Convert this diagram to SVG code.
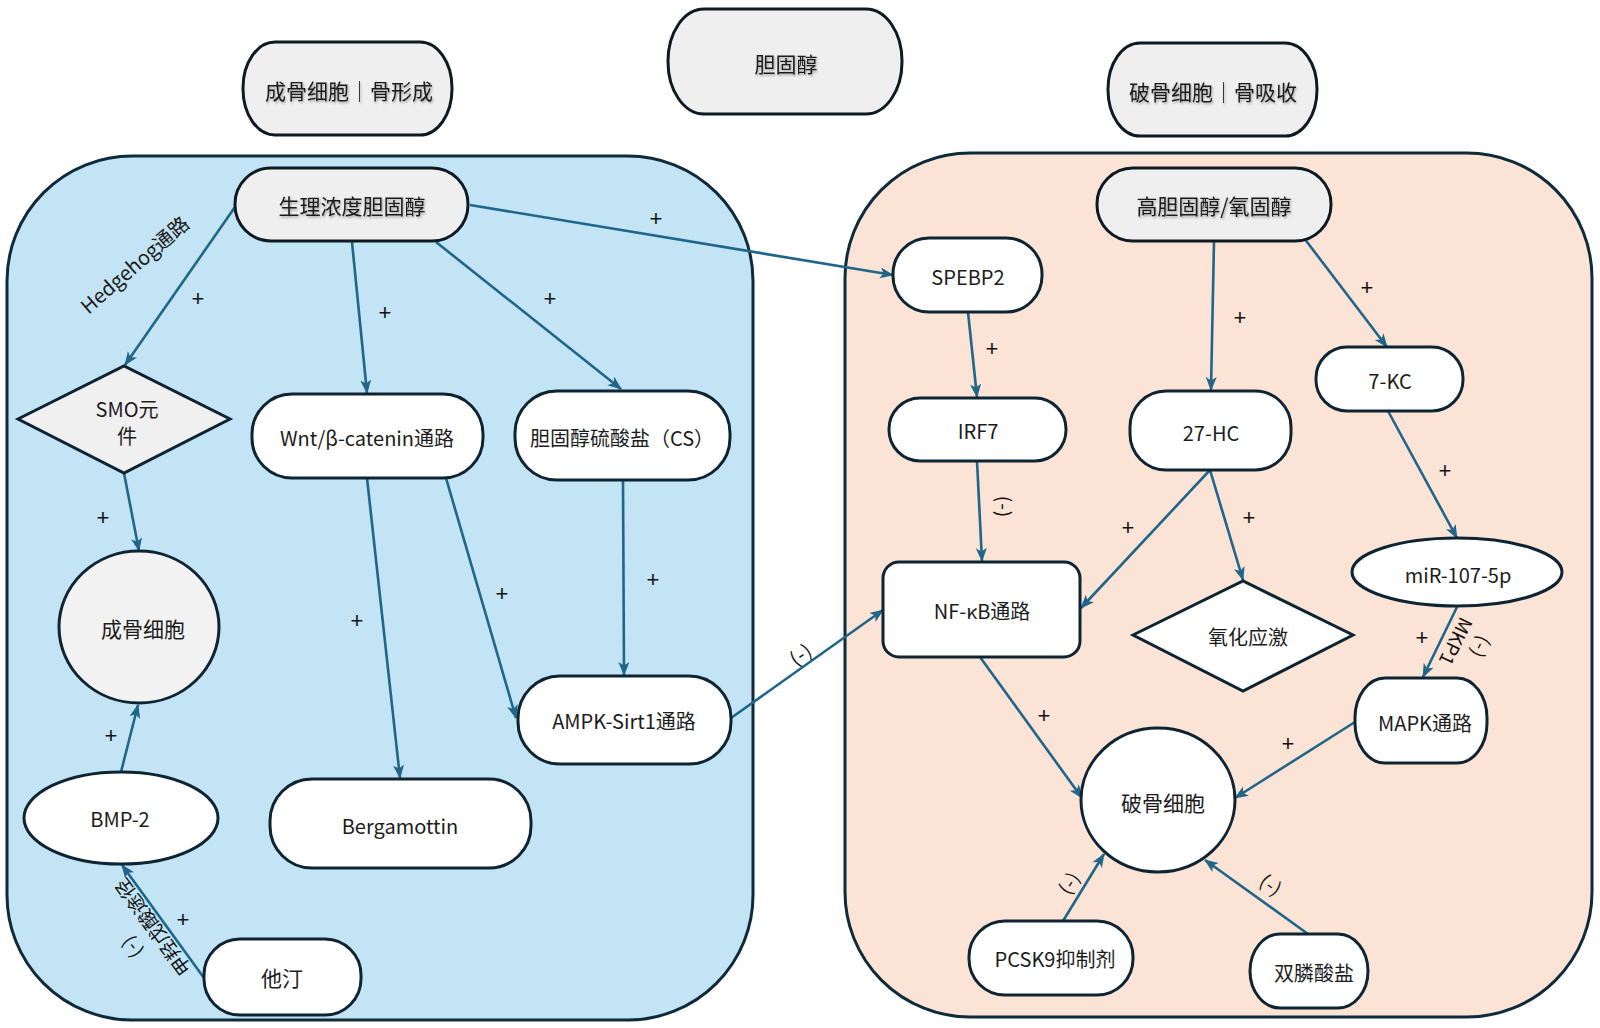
<svg xmlns="http://www.w3.org/2000/svg" width="1600" height="1028" viewBox="0 0 1600 1028">
<defs>
<style>
.bg{fill:#ffffff}
.zone{stroke:#0f2a3a;stroke-width:3}
.n{fill:#ffffff;stroke:#0e2433;stroke-width:3}
.g{fill:#efefef;stroke:#0e1a22;stroke-width:3}
.t{font-family:"Noto Sans CJK SC","Noto Sans",sans-serif;font-size:20px;fill:#1c1c1c;text-anchor:middle;dominant-baseline:central}
.tl{font-size:21px}
.sh{filter:url(#ts)}
.c{fill:none;stroke:#1f6689;stroke-width:2.6;marker-end:url(#ah)}
.p{font-family:"Liberation Sans","Noto Sans",sans-serif;font-size:22px;fill:#111;text-anchor:middle;dominant-baseline:central}
.m{font-family:"Noto Sans CJK SC","Noto Sans",sans-serif;font-size:19px;fill:#111;text-anchor:middle;dominant-baseline:central;letter-spacing:1px}
</style>
<marker id="ah" markerWidth="14" markerHeight="12" refX="13" refY="5.5" orient="auto" markerUnits="userSpaceOnUse">
<path d="M0,0 L14,5.5 L0,11 L3.5,5.5 z" fill="#1f6689"/>
</marker>
<filter id="ts" x="-10%" y="-30%" width="120%" height="160%">
<feDropShadow dx="1" dy="1.5" stdDeviation="1" flood-color="#000" flood-opacity="0.35"/>
</filter>
</defs>
<rect class="bg" x="0" y="0" width="1600" height="1028"/>

<g id="zones">
<rect id="zone-left" class="zone" x="7" y="156" width="746" height="864" rx="125" ry="125" fill="#c2e4f5"/>
<rect id="zone-right" class="zone" x="845" y="153" width="747" height="864" rx="125" ry="125" fill="#fbe3d6"/>
</g>

<g id="connectors">
<path class="c" d="M235,207 L125,365"/>
<path class="c" d="M352,242 L367,393"/>
<path class="c" d="M436,242 L621,389"/>
<path class="c" d="M470,205 L893,275"/>
<path class="c" d="M124,473 L139,551"/>
<path class="c" d="M121,772 L138,705"/>
<path class="c" d="M367,478 L400,778"/>
<path class="c" d="M446,478 L516,718"/>
<path class="c" d="M623,480 L624,675"/>
<path class="c" d="M204,978 L122,865"/>
<path class="c" d="M731,718 L883,610"/>
<path class="c" d="M968,312 L977,397"/>
<path class="c" d="M977,461 L982,561"/>
<path class="c" d="M1214,241 L1211,390"/>
<path class="c" d="M1304,238 L1387,347"/>
<path class="c" d="M1388,411 L1457,538"/>
<path class="c" d="M1210,470 L1081,608"/>
<path class="c" d="M1210,470 L1243,580"/>
<path class="c" d="M1457,607 L1423,677"/>
<path class="c" d="M980,657 L1082,798"/>
<path class="c" d="M1355,722 L1235,798"/>
<path class="c" d="M1063,921 L1104,854"/>
<path class="c" d="M1308,934 L1205,860"/>
</g>

<g id="edge-labels">
<text class="p" x="198" y="298">+</text>
<text class="p" x="385" y="312">+</text>
<text class="p" x="550" y="298">+</text>
<text class="p" x="656" y="218">+</text>
<text class="p" x="103" y="517">+</text>
<text class="p" x="111" y="735">+</text>
<text class="p" x="357" y="620">+</text>
<text class="p" x="502" y="593">+</text>
<text class="p" x="653" y="579">+</text>
<text class="p" x="183" y="919">+</text>
<text class="p" x="992" y="348">+</text>
<text class="p" x="1240" y="317">+</text>
<text class="p" x="1367" y="287">+</text>
<text class="p" x="1445" y="470">+</text>
<text class="p" x="1128" y="527">+</text>
<text class="p" x="1249" y="517">+</text>
<text class="p" x="1422" y="637">+</text>
<text class="p" x="1044" y="715">+</text>
<text class="p" x="1288" y="743">+</text>
<text class="m" transform="translate(1005,507) rotate(90)">(-)</text>
<text class="m" transform="translate(800,653) rotate(-35)">(-)</text>
<text class="m" transform="translate(1068,882) rotate(-58)">(-)</text>
<text class="m" transform="translate(1272,884) rotate(36)">(-)</text>
<text class="m" style="letter-spacing:0" transform="translate(1457,642) rotate(116)">MKP1</text>
<text class="m" transform="translate(1482,648) rotate(116)">(-)</text>
<text class="m" style="letter-spacing:0" transform="translate(152,928) rotate(-126)">甲羟戊酸途径</text>
<text class="m" transform="translate(130,948) rotate(-126)">(-)</text>
<text class="t" transform="translate(134,264) rotate(-41)">Hedgehog通路</text>
</g>

<g id="n-title-osteoblast">
<rect class="g" x="243" y="42" width="209" height="93" rx="32" ry="46"/>
<text class="t tl sh" x="349" y="90">成骨细胞｜骨形成</text>
</g>
<g id="n-title-cholesterol">
<rect class="g" x="668" y="9" width="234" height="105" rx="36" ry="52"/>
<text class="t tl sh" x="786" y="63">胆固醇</text>
</g>
<g id="n-title-osteoclast">
<rect class="g" x="1108" y="43" width="209" height="93" rx="32" ry="46"/>
<text class="t tl sh" x="1213" y="91">破骨细胞｜骨吸收</text>
</g>

<g id="n-physio">
<rect class="g" x="235" y="168" width="233" height="73" rx="36" ry="36"/>
<text class="t tl sh" x="352" y="205">生理浓度胆固醇</text>
</g>
<g id="n-smo">
<polygon class="g" points="18,419 124,366 230,419 124,473" style="fill:#f0f0f0;stroke:#0e2433"/>
<text class="t" x="127" y="408">SMO元</text>
<text class="t" x="127" y="435">件</text>
</g>
<g id="n-wnt">
<rect class="n" x="252" y="394" width="231" height="84" rx="40" ry="40"/>
<text class="t" x="367" y="437">Wnt/β-catenin通路</text>
</g>
<g id="n-cs">
<rect class="n" x="515" y="391" width="215" height="89" rx="42" ry="42"/>
<text class="t" x="622" y="437">胆固醇硫酸盐（CS）</text>
</g>
<g id="n-osteoblast">
<ellipse class="n" cx="139" cy="627" rx="80" ry="76" style="fill:#f2f2f2"/>
<text class="t tl" x="143" y="628">成骨细胞</text>
</g>
<g id="n-bmp2">
<ellipse class="n" cx="121" cy="818" rx="97" ry="46"/>
<text class="t" x="120" y="818">BMP-2</text>
</g>
<g id="n-bergamottin">
<rect class="n" x="270" y="779" width="261" height="89" rx="42" ry="42"/>
<text class="t" x="400" y="825">Bergamottin</text>
</g>
<g id="n-ampk">
<rect class="n" x="518" y="676" width="213" height="88" rx="42" ry="42"/>
<text class="t" x="624" y="720">AMPK-Sirt1通路</text>
</g>
<g id="n-statin">
<rect class="n" x="204" y="939" width="157" height="76" rx="36" ry="36"/>
<text class="t tl" x="282" y="977">他汀</text>
</g>

<g id="n-spebp2">
<rect class="n" x="893" y="238" width="149" height="74" rx="36" ry="36"/>
<text class="t" x="968" y="276">SPEBP2</text>
</g>
<g id="n-irf7">
<rect class="n" x="889" y="398" width="177" height="63" rx="31" ry="31"/>
<text class="t" x="978" y="430">IRF7</text>
</g>
<g id="n-nfkb">
<rect class="n" x="883" y="562" width="197" height="95" rx="16" ry="16"/>
<text class="t" x="982" y="610">NF-κB通路</text>
</g>
<g id="n-high">
<rect class="g" x="1097" y="168" width="234" height="73" rx="36" ry="36"/>
<text class="t tl sh" x="1214" y="205">高胆固醇/氧固醇</text>
</g>
<g id="n-27hc">
<rect class="n" x="1130" y="391" width="161" height="79" rx="36" ry="36"/>
<text class="t" x="1211" y="432">27-HC</text>
</g>
<g id="n-7kc">
<rect class="n" x="1316" y="347" width="147" height="64" rx="31" ry="31"/>
<text class="t" x="1390" y="380">7-KC</text>
</g>
<g id="n-oxstress">
<polygon class="n" points="1133,635 1243,581 1353,635 1243,691"/>
<text class="t" x="1248" y="636">氧化应激</text>
</g>
<g id="n-mir">
<ellipse class="n" cx="1457" cy="572" rx="105" ry="34"/>
<text class="t" x="1458" y="574">miR-107-5p</text>
</g>
<g id="n-mapk">
<rect class="n" x="1355" y="678" width="132" height="85" rx="30" ry="40"/>
<text class="t" x="1425" y="722">MAPK通路</text>
</g>
<g id="n-osteoclast">
<ellipse class="n" cx="1158" cy="800" rx="77" ry="72"/>
<text class="t tl" x="1163" y="802">破骨细胞</text>
</g>
<g id="n-pcsk9">
<rect class="n" x="969" y="921" width="164" height="74" rx="36" ry="36"/>
<text class="t" x="1055" y="958">PCSK9抑制剂</text>
</g>
<g id="n-bisphos">
<rect class="n" x="1250" y="934" width="118" height="74" rx="30" ry="37"/>
<text class="t" x="1314" y="972">双膦酸盐</text>
</g>
</svg>
